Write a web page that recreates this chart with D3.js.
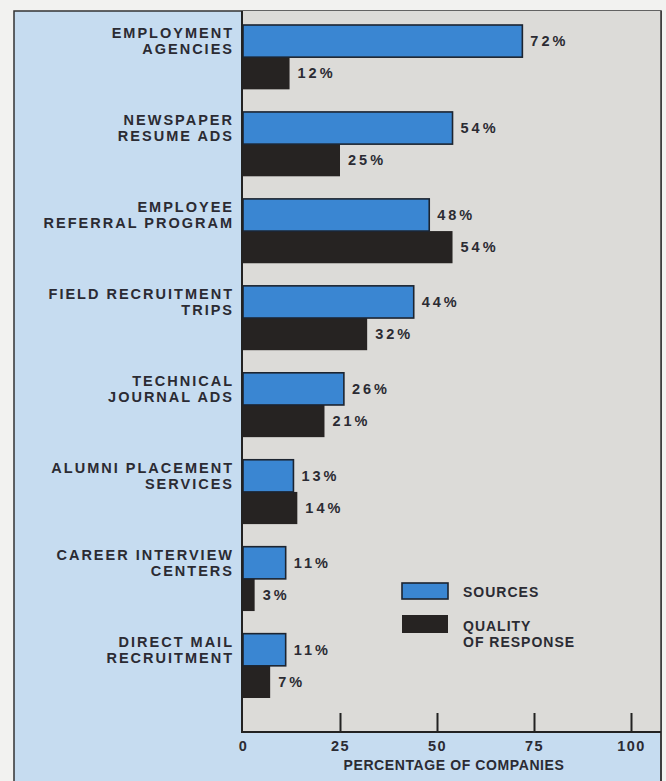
<!DOCTYPE html>
<html><head><meta charset="utf-8">
<script src="https://cdn.jsdelivr.net/npm/d3@7/dist/d3.min.js"></script>
<style>
html,body{margin:0;padding:0;background:#f2f2f0;}
svg{display:block;}
text{font-family:"Liberation Sans",Arial,sans-serif;fill:#2b2b33;}
</style></head>
<body>
<script>
const categories = [
  ["EMPLOYMENT","AGENCIES"],
  ["NEWSPAPER","RESUME ADS"],
  ["EMPLOYEE","REFERRAL PROGRAM"],
  ["FIELD RECRUITMENT","TRIPS"],
  ["TECHNICAL","JOURNAL ADS"],
  ["ALUMNI PLACEMENT","SERVICES"],
  ["CAREER INTERVIEW","CENTERS"],
  ["DIRECT MAIL","RECRUITMENT"]
];
const sources = [72, 54, 48, 44, 26, 13, 11, 11];
const quality = [12, 25, 54, 32, 21, 14, 3, 7];
const seriesNames = ["SOURCES", ["QUALITY","OF RESPONSE"]];
const xTicks = [0, 25, 50, 75, 100];
const axisTitle = "PERCENTAGE OF COMPANIES";

const W = 666, H = 781;
const frame = {l:14, t:11, r:661, b:790};
const plot = {l:242, t:11, r:661, b:732};
const blue = "#3a86d2", dark = "#262322", panel = "#c6dcf0", gray = "#dcdbd8";

const svg = d3.select("body").append("svg").attr("width", W).attr("height", H);

svg.append("rect").attr("x",frame.l).attr("y",frame.t).attr("width",frame.r-frame.l).attr("height",frame.b-frame.t)
  .attr("fill",panel).attr("stroke","#333").attr("stroke-width",1.5);
svg.append("rect").attr("x",plot.l).attr("y",plot.t).attr("width",plot.r-plot.l).attr("height",plot.b-plot.t)
  .attr("fill",gray);

const x = d3.scaleLinear().domain([0,100]).range([243, 631]);
const idx = d3.range(categories.length);
const y = d3.scaleBand().domain(idx).range([25, 698]).paddingInner(0.26).paddingOuter(0);
const ySub = d3.scaleBand().domain([0,1]).range([0, y.bandwidth()]);

const g = svg.append("g");
idx.forEach(i => {
  const y0 = y(i);
  g.append("rect").attr("x", x(0)).attr("y", y0 + ySub(1))
    .attr("width", x(quality[i]) - x(0)).attr("height", ySub.bandwidth())
    .attr("fill", dark);
  g.append("rect").attr("x", x(0)).attr("y", y0 + ySub(0))
    .attr("width", x(sources[i]) - x(0)).attr("height", ySub.bandwidth())
    .attr("fill", blue).attr("stroke", "#1c2430").attr("stroke-width", 1.6);
  g.append("text").attr("x", x(sources[i]) + 8).attr("y", y0 + ySub(0) + ySub.bandwidth()/2)
    .attr("dy","0.36em").attr("font-size",14.5).attr("font-weight","bold").attr("letter-spacing",3)
    .attr("fill","#333").text(sources[i] + "%");
  g.append("text").attr("x", x(quality[i]) + 8).attr("y", y0 + ySub(1) + ySub.bandwidth()/2)
    .attr("dy","0.36em").attr("font-size",14.5).attr("font-weight","bold").attr("letter-spacing",3)
    .attr("fill","#333").text(quality[i] + "%");
  const cy = y0 + ySub.bandwidth()/2;
  const t = svg.append("text").attr("text-anchor","end").attr("font-size",14.5).attr("font-weight","bold")
    .attr("letter-spacing",2);
  t.append("tspan").attr("x", 234).attr("y", cy - 8).attr("dy","0.36em").text(categories[i][0]);
  t.append("tspan").attr("x", 234).attr("y", cy + 8).attr("dy","0.36em").text(categories[i][1]);
});

svg.append("line").attr("x1",plot.l).attr("x2",plot.l).attr("y1",plot.t).attr("y2",plot.b)
  .attr("stroke","#222").attr("stroke-width",2);
svg.append("line").attr("x1",plot.r).attr("x2",plot.r).attr("y1",plot.t).attr("y2",frame.b)
  .attr("stroke","#333").attr("stroke-width",1.5);

const axis = d3.axisBottom(x).tickValues(xTicks).tickSize(0).tickPadding(0);
const ax = svg.append("g").attr("transform",`translate(0,${plot.b})`).call(axis);
ax.select(".domain").remove();
ax.selectAll(".tick text").attr("font-size",14.5).attr("font-family","Liberation Sans, Arial, sans-serif")
  .attr("font-weight","bold").attr("fill","#2b2b33").attr("letter-spacing",1.5).attr("y",9).attr("dy","0.71em");
ax.selectAll(".tick").filter(d => d !== 0).append("line")
  .attr("y1",0).attr("y2",-19).attr("stroke","#222").attr("stroke-width",2);
svg.append("line").attr("x1",plot.l-1).attr("x2",plot.r).attr("y1",plot.b).attr("y2",plot.b)
  .attr("stroke","#222").attr("stroke-width",2);

svg.append("text").attr("x",(x(0)+x(100))/2 + 17).attr("y",765).attr("dy","0.36em").attr("text-anchor","middle")
  .attr("font-size",14).attr("font-weight","bold").attr("letter-spacing",0.6).text(axisTitle);

const lg = svg.append("g");
lg.append("rect").attr("x",402).attr("y",583).attr("width",46).attr("height",16)
  .attr("fill",blue).attr("stroke","#1c2430").attr("stroke-width",1.6);
lg.append("rect").attr("x",402).attr("y",615).attr("width",46).attr("height",18).attr("fill",dark);
lg.append("text").attr("x",463).attr("y",592).attr("dy","0.36em").attr("font-size",14).attr("font-weight","bold")
  .attr("letter-spacing",1).text(seriesNames[0]);
const lt = lg.append("text").attr("font-size",14).attr("font-weight","bold").attr("letter-spacing",1);
lt.append("tspan").attr("x",463).attr("y",626).attr("dy","0.36em").text(seriesNames[1][0]);
lt.append("tspan").attr("x",463).attr("y",642).attr("dy","0.36em").text(seriesNames[1][1]);
</script>
</body></html>
